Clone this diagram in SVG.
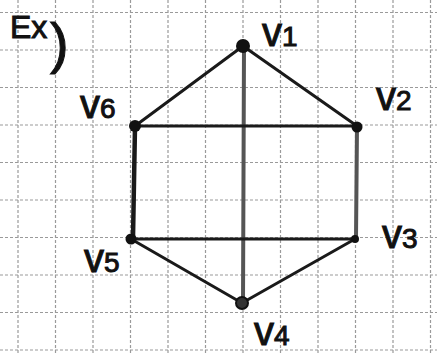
<svg xmlns="http://www.w3.org/2000/svg" width="437" height="354" viewBox="0 0 437 354">
<style>
.grid line{stroke:#9a9a9a;stroke-width:1.2;stroke-dasharray:3 2}
.e{stroke:#1a1a1a;stroke-width:3;stroke-linecap:round}
.eg{stroke:#555;stroke-width:4;stroke-linecap:round}
.lbl{font-family:"Liberation Sans",Arial,sans-serif;font-size:40px;fill:#111;stroke:#111;stroke-width:1}
.sub{font-size:28px}
.dot{fill:#111}
</style>
<rect width="437" height="354" fill="#fff"/>
<g class="grid">
<line x1="18" y1="0" x2="18" y2="354"/><line x1="55.5" y1="0" x2="55.5" y2="354"/><line x1="93" y1="0" x2="93" y2="354"/><line x1="130.5" y1="0" x2="130.5" y2="354"/><line x1="168" y1="0" x2="168" y2="354"/><line x1="205.5" y1="0" x2="205.5" y2="354"/><line x1="243" y1="0" x2="243" y2="354"/><line x1="280.5" y1="0" x2="280.5" y2="354"/><line x1="318" y1="0" x2="318" y2="354"/><line x1="355.5" y1="0" x2="355.5" y2="354"/><line x1="393" y1="0" x2="393" y2="354"/><line x1="430.5" y1="0" x2="430.5" y2="354"/>
<line x1="0" y1="12.5" x2="437" y2="12.5"/><line x1="0" y1="50" x2="437" y2="50"/><line x1="0" y1="87.5" x2="437" y2="87.5"/><line x1="0" y1="125" x2="437" y2="125"/><line x1="0" y1="162.5" x2="437" y2="162.5"/><line x1="0" y1="200" x2="437" y2="200"/><line x1="0" y1="237.5" x2="437" y2="237.5"/><line x1="0" y1="275" x2="437" y2="275"/><line x1="0" y1="312.5" x2="437" y2="312.5"/><line x1="0" y1="350" x2="437" y2="350"/>
</g>
<text x="10" y="38" class="lbl" style="font-size:32px">Ex<tspan x="50" y="62" style="font-size:56px">)</tspan></text>
<g id="connectors">
<line class="e" x1="243" y1="46" x2="135" y2="126"/>
<line class="e" x1="243" y1="46" x2="357" y2="126"/>
<line class="eg" x1="244" y1="46" x2="243" y2="303"/>
<line class="e" x1="135" y1="126" x2="357" y2="126"/>
<line class="e" x1="135" y1="126" x2="133" y2="238" style="stroke-width:4.5"/>
<line class="eg" x1="357" y1="126" x2="356" y2="238"/>
<line class="e" x1="131" y1="239" x2="355" y2="239"/>
<line class="e" x1="131" y1="239" x2="242" y2="303"/>
<line class="e" x1="355" y1="239" x2="242" y2="303"/>
</g>
<g id="v1"><circle class="dot" cx="243" cy="46" r="7"/><text class="lbl" x="262" y="46">v<tspan class="sub">1</tspan></text></g>
<g id="v2"><circle class="dot" cx="357" cy="127" r="5.5"/><text class="lbl" x="376" y="110">v<tspan class="sub">2</tspan></text></g>
<g id="v3"><circle class="dot" cx="355" cy="239" r="4"/><text class="lbl" x="382" y="248">v<tspan class="sub">3</tspan></text></g>
<g id="v4"><circle cx="242" cy="303" r="6" fill="#333" stroke="#111" stroke-width="2"/><text class="lbl" x="254" y="345">v<tspan class="sub">4</tspan></text></g>
<g id="v5"><circle class="dot" cx="131" cy="239" r="5.5"/><text class="lbl" x="84" y="272">v<tspan class="sub">5</tspan></text></g>
<g id="v6"><circle class="dot" cx="135" cy="126" r="6"/><text class="lbl" x="80" y="118">v<tspan class="sub">6</tspan></text></g>
</svg>
